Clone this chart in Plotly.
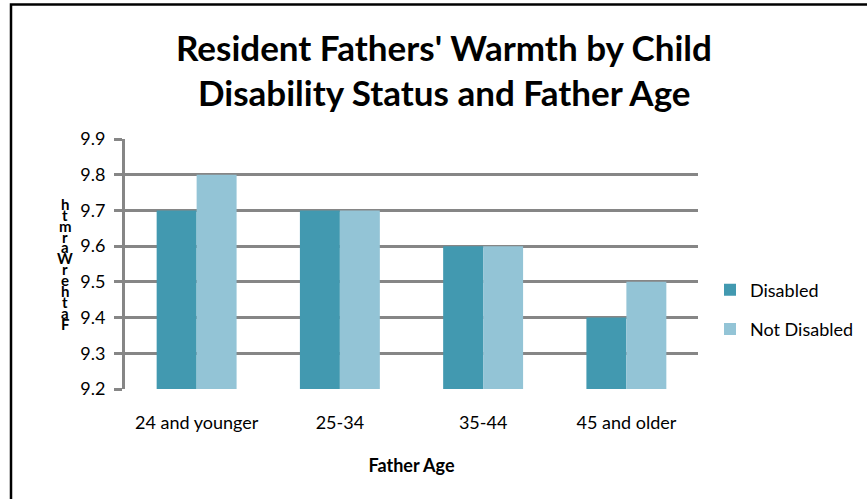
import plotly.graph_objects as go

categories = ["24 and younger", "25-34", "35-44", "45 and older"]
disabled = [9.7, 9.7, 9.6, 9.4]
not_disabled = [9.8, 9.7, 9.6, 9.5]
series_names = ["Disabled", "Not Disabled"]
y_ticks = [9.2, 9.3, 9.4, 9.5, 9.6, 9.7, 9.8, 9.9]
title_lines = ["Resident Fathers' Warmth by Child", "Disability Status and Father Age"]
y_title = "Father Warmth"
x_title = "Father Age"

W, H = 867, 499
L, R, T, B = 125, 169, 139, 110
PW, PH = W - L - R, H - T - B


def px(x):
    return (x - L) / PW


def py(y):
    return (H - B - y) / PH


FONT = "Lato"
GRID = "#868686"

fig = go.Figure()
fig.add_trace(go.Bar(x=categories, y=disabled, name=series_names[0],
                     marker=dict(color="#4299B0", line=dict(width=0)),
                     legendgroup="a"))
fig.add_trace(go.Bar(x=categories, y=not_disabled, name=series_names[1],
                     marker=dict(color="#93C4D6", line=dict(width=0)),
                     legendgroup="b"))

fig.update_layout(
    width=W, height=H,
    margin=dict(l=L, r=R, t=T, b=B, pad=0, autoexpand=False),
    paper_bgcolor="white", plot_bgcolor="white",
    barmode="group", bargap=0.442, bargroupgap=0,
    font=dict(family=FONT, color="black"),
    showlegend=True,
    legend=dict(x=px(710), y=py(309.5), xanchor="left", yanchor="middle",
                font=dict(size=18, family=FONT, color="black"),
                traceorder="grouped", tracegroupgap=13,
                bgcolor="rgba(0,0,0,0)", itemclick=False),
)

fig.update_yaxes(range=[9.2, 9.9], tickvals=y_ticks,
                 ticktext=[f"{v:.1f}" for v in y_ticks],
                 showgrid=True, gridcolor=GRID, gridwidth=3,
                 showline=True, linecolor=GRID, linewidth=3,
                 ticks="outside", ticklen=8, tickwidth=3, tickcolor=GRID,
                 tickfont=dict(size=18, family=FONT, color="black"),
                 ticklabelstandoff=5,
                 zeroline=False, fixedrange=True)
fig.update_xaxes(showgrid=False, showline=False, ticks="",
                 tickfont=dict(size=18, family=FONT, color="black"),
                 ticklabelstandoff=21,
                 title=dict(text=f"<b>{x_title}</b>", font=dict(size=18, family=FONT), standoff=27),
                 fixedrange=True)

anns = []
# title
anns.append(dict(text=f"<b>{title_lines[0]}</b>", x=px(444), y=py(47), xref="paper", yref="paper",
                 showarrow=False, font=dict(size=35, family=FONT, color="black"),
                 xanchor="center", yanchor="middle"))
anns.append(dict(text=f"<b>{title_lines[1]}</b>", x=px(444), y=py(92), xref="paper", yref="paper",
                 showarrow=False, font=dict(size=35, family=FONT, color="black"),
                 xanchor="center", yanchor="middle"))
# stacked y-axis title letters, bottom to top
letters = [c for c in y_title if c != " "]
for i, c in enumerate(letters):
    anns.append(dict(text=f"<b>{c}</b>", x=px(65), y=py(323.7 - 10.9 * i), xref="paper", yref="paper",
                     showarrow=False, font=dict(size=15, family=FONT, color="black"),
                     xanchor="center", yanchor="middle"))
fig.update_layout(annotations=anns)

fig.add_shape(type="rect", xref="paper", yref="paper",
              x0=px(11), x1=px(880), y0=py(510), y1=py(4.5),
              line=dict(color="black", width=2.5), fillcolor="rgba(0,0,0,0)", layer="above")

fig.write_html("out.html", config={"displayModeBar": False},
               post_script="document.body.style.margin='0';document.body.style.padding='0';")
